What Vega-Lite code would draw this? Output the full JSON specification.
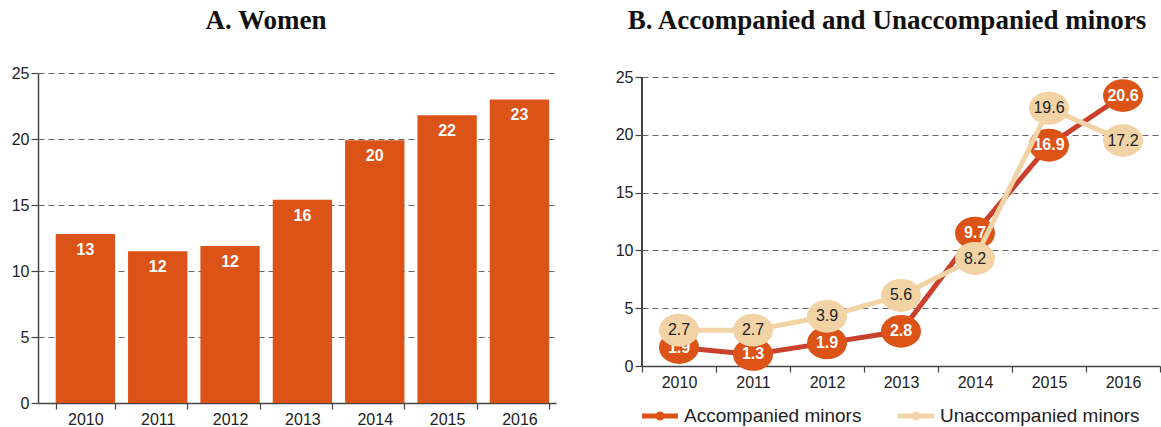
{
  "$schema": "https://vega.github.io/schema/vega-lite/v6.json",
  "padding": {"left": 11, "top": 7, "right": 0, "bottom": 0},
  "spacing": 59,
  "background": "white",
  "resolve": {"scale": {"color": "independent"}, "legend": {"color": "independent"}},
  "datasets": {
    "women": [
      {"year": "2010", "value": 12.8, "label": "13"},
      {"year": "2011", "value": 11.5, "label": "12"},
      {"year": "2012", "value": 11.9, "label": "12"},
      {"year": "2013", "value": 15.4, "label": "16"},
      {"year": "2014", "value": 19.9, "label": "20"},
      {"year": "2015", "value": 21.8, "label": "22"},
      {"year": "2016", "value": 23.0, "label": "23"}
    ],
    "minors": [
      {"year": "2010", "group": "Accompanied minors", "pos": 1.6, "label": "1.9"},
      {"year": "2011", "group": "Accompanied minors", "pos": 1.0, "label": "1.3"},
      {"year": "2012", "group": "Accompanied minors", "pos": 2.0, "label": "1.9"},
      {"year": "2013", "group": "Accompanied minors", "pos": 3.0, "label": "2.8"},
      {"year": "2014", "group": "Accompanied minors", "pos": 11.5, "label": "9.7"},
      {"year": "2015", "group": "Accompanied minors", "pos": 19.1, "label": "16.9"},
      {"year": "2016", "group": "Accompanied minors", "pos": 23.4, "label": "20.6"},
      {"year": "2010", "group": "Unaccompanied minors", "pos": 3.1, "label": "2.7"},
      {"year": "2011", "group": "Unaccompanied minors", "pos": 3.1, "label": "2.7"},
      {"year": "2012", "group": "Unaccompanied minors", "pos": 4.3, "label": "3.9"},
      {"year": "2013", "group": "Unaccompanied minors", "pos": 6.1, "label": "5.6"},
      {"year": "2014", "group": "Unaccompanied minors", "pos": 9.3, "label": "8.2"},
      {"year": "2015", "group": "Unaccompanied minors", "pos": 22.3, "label": "19.6"},
      {"year": "2016", "group": "Unaccompanied minors", "pos": 19.5, "label": "17.2"}
    ]
  },
  "hconcat": [
    {
      "width": 518,
      "height": 330,
      "title": {"text": "A. Women", "dx": -31, "offset": 30},
      "data": {"name": "women"},
      "encoding": {
        "x": {"field": "year", "type": "ordinal", "scale": {"paddingInner": 0.18, "paddingOuter": 0.17, "align": 0.72},
              "axis": {"title": null, "labelAngle": 0, "tickBand": "extent", "grid": false, "tickSize": 6}},
        "y": {"field": "value", "type": "quantitative", "scale": {"domain": [0, 25]},
              "axis": {"title": null, "values": [0, 5, 10, 15, 20, 25], "grid": true}}
      },
      "layer": [
        {"mark": {"type": "bar", "color": "#dc5318"}},
        {"mark": {"type": "text", "color": "white", "fontWeight": "bold", "fontSize": 16, "dy": 16, "baseline": "middle"},
         "encoding": {"text": {"field": "label"}}}
      ]
    },
    {
      "width": 518,
      "height": 293,
      "title": {"text": "B. Accompanied and Unaccompanied minors", "dx": -14, "offset": 34},
      "data": {"name": "minors"},
      "encoding": {
        "x": {"field": "year", "type": "ordinal", "scale": {"paddingInner": 0, "paddingOuter": 0},
              "axis": {"title": null, "labelAngle": 0, "tickBand": "extent", "grid": false, "tickSize": 6}},
        "y": {"field": "pos", "type": "quantitative", "scale": {"domain": [0, 25.35], "nice": false},
              "axis": {"title": null, "values": [0, 5, 10, 15, 20, 25], "grid": true, "domain": false}}
      },
      "layer": [
        {"mark": {"type": "rule", "color": "#444", "strokeWidth": 1.5},
         "encoding": {"x": {"datum": "2010", "type": "ordinal", "bandPosition": 0},
                      "y": {"datum": 0, "type": "quantitative"}, "y2": {"datum": 25}}},
        {"transform": [{"filter": "datum.group === 'Accompanied minors'"}],
         "mark": {"type": "line", "color": "#c9402c", "strokeWidth": 5}},
        {"transform": [{"filter": "datum.group === 'Accompanied minors'"}],
         "mark": {"type": "point", "filled": true, "opacity": 1, "size": 1600, "shape": "M-1,0 A1,0.82 0 1,0 1,0 A1,0.82 0 1,0 -1,0 Z"},
         "encoding": {"color": {"field": "group", "type": "nominal",
           "scale": {"domain": ["Accompanied minors", "Unaccompanied minors"], "range": ["#dc5318", "#f2d3a6"]},
           "legend": {"orient": "bottom", "direction": "horizontal", "title": null, "offset": 8,
             "labelFontSize": 19, "labelColor": "#222", "labelOffset": 6, "columnPadding": 36, "labelLimit": 400,
             "symbolType": "M-1,-0.14 L1,-0.14 L1,0.14 L-1,0.14 Z M-0.25,0 A0.25,0.25 0 1,1 0.25,0 A0.25,0.25 0 1,1 -0.25,0 Z",
             "symbolSize": 1296, "symbolStrokeWidth": 0, "symbolOpacity": 1}}}},
        {"transform": [{"filter": "datum.group === 'Accompanied minors'"}],
         "mark": {"type": "text", "color": "white", "fontWeight": "bold", "fontSize": 16, "baseline": "middle"},
         "encoding": {"text": {"field": "label"}}},
        {"transform": [{"filter": "datum.group === 'Unaccompanied minors'"}],
         "mark": {"type": "line", "color": "#f2d3a6", "strokeWidth": 5}},
        {"transform": [{"filter": "datum.group === 'Unaccompanied minors'"}],
         "mark": {"type": "point", "filled": true, "opacity": 1, "size": 1600, "shape": "M-1,0 A1,0.82 0 1,0 1,0 A1,0.82 0 1,0 -1,0 Z"},
         "encoding": {"color": {"field": "group", "type": "nominal"}}},
        {"transform": [{"filter": "datum.group === 'Unaccompanied minors'"}],
         "mark": {"type": "text", "color": "#222", "fontSize": 16, "baseline": "middle"},
         "encoding": {"text": {"field": "label"}}}
      ]
    }
  ],
  "config": {
    "view": {"stroke": null},
    "font": "Liberation Sans",
    "title": {"font": "Liberation Serif", "fontSize": 27, "fontWeight": "bold", "color": "#111", "anchor": "middle"},
    "axis": {
      "domainColor": "#444", "domainWidth": 1.5, "tickColor": "#444", "tickWidth": 1.2,
      "labelColor": "#222", "labelFontSize": 16, "labelFont": "Liberation Sans", "labelPadding": 2,
      "gridColor": "#666", "gridDash": [6, 4], "gridWidth": 1, "tickSize": 7
    }
  }
}
